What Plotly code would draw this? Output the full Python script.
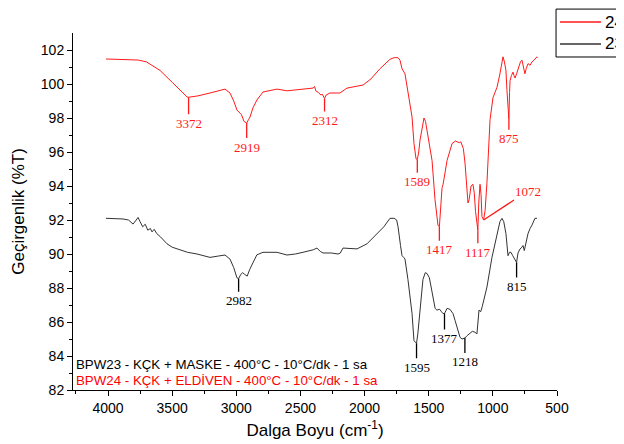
import numpy as np
import plotly.graph_objects as go

# ---- data ----
red_wn = [4016, 3900, 3766, 3700, 3595, 3500, 3430, 3384, 3372, 3300, 3205, 3140, 3088, 3049, 3020, 2995,
          2960, 2940, 2925, 2919, 2905, 2893, 2870, 2839, 2792, 2740, 2683, 2605, 2500, 2402, 2390, 2380,
          2360, 2340, 2330, 2318, 2312, 2300, 2270, 2192, 2137, 2012, 1950, 1880, 1802, 1770, 1740, 1724,
          1708, 1685, 1662, 1645, 1630, 1615, 1599, 1589, 1578, 1568, 1550, 1537, 1525, 1513, 1495, 1474,
          1451, 1428, 1417, 1405, 1396, 1388, 1380, 1357, 1318, 1290, 1279, 1260, 1250, 1240, 1230, 1217,
          1205, 1194, 1185, 1170, 1155, 1145, 1135, 1117, 1110, 1100, 1092, 1085, 1072, 1060, 1046, 1035,
          1022, 999, 968, 945, 929, 921, 910, 898, 890, 882, 875, 870, 866, 855, 843, 835, 827, 815, 800,
          785, 773, 760, 750, 740, 726, 710, 695, 680, 665, 656, 650]
red_t = [101.47, 101.43, 101.41, 101.3, 100.8, 100.1, 99.6, 99.24, 99.22, 99.3, 99.47, 99.6, 99.7, 99.47, 99.0, 98.47,
         98.2, 97.8, 97.75, 97.7, 97.9, 98.06, 98.6, 99.06, 99.53, 99.62, 99.7, 99.6, 99.68, 99.76, 99.85, 99.6,
         99.5, 99.35, 99.4, 99.2, 99.15, 99.35, 99.47, 99.47, 99.76, 99.94, 100.3, 100.9, 101.45, 101.55, 101.55, 101.4,
         100.9, 100.6, 99.6, 98.9, 98.06, 96.5, 95.6, 95.55, 96.0, 96.7, 97.6, 98.0, 97.8, 97.3, 96.5, 95.5,
         93.2, 91.7, 91.6, 92.8, 93.9, 94.1, 94.5, 95.5, 96.5, 96.65, 96.6, 96.55, 96.6, 96.4, 96.2, 95.35,
         94.0, 93.0, 93.2, 94.0, 94.1, 93.6, 92.5, 91.4, 93.0, 94.1, 93.5, 92.2, 92.0, 92.6, 94.2, 96.0,
         97.9, 99.2, 99.8, 100.6, 101.4, 101.6, 101.3, 100.8, 99.6, 98.6, 97.9, 99.5, 100.2, 100.5, 100.7, 100.5, 100.35, 100.6, 101.0,
         101.3, 101.4, 101.0, 100.6, 100.9, 101.2, 101.1, 101.3, 101.4, 101.5, 101.6, 101.55]

blk_wn = [4016, 3950, 3883, 3840, 3805, 3780, 3766, 3750, 3730, 3710, 3690, 3670, 3657, 3640, 3620, 3590,
          3540, 3500, 3439, 3380, 3306, 3250, 3205, 3140, 3088, 3049, 3020, 2995, 2982, 2965, 2950, 2935,
          2915, 2895, 2870, 2840, 2792, 2700, 2683, 2605, 2540, 2480, 2400, 2371, 2345, 2324, 2260, 2207,
          2190, 2168, 2100, 2059, 1981, 1903, 1850, 1802, 1770, 1750, 1739, 1720, 1708, 1695, 1685, 1662,
          1645, 1630, 1615, 1595, 1585, 1568, 1545, 1527, 1513, 1495, 1480, 1467, 1450, 1436, 1415, 1400,
          1389, 1377, 1365, 1357, 1335, 1311, 1295, 1279, 1256, 1240, 1218, 1200, 1178, 1160, 1140, 1124,
          1108, 1095, 1083, 1065, 1046, 1007, 968, 945, 929, 915, 898, 882, 870, 859, 845, 830, 820, 815,
          804, 788, 773, 765, 755, 740, 726, 710, 695, 672, 656]
blk_t = [92.1, 92.08, 92.06, 92.0, 91.76, 92.0, 92.15, 91.9, 91.6, 91.75, 91.4, 91.5, 91.3, 91.45, 91.2, 91.0,
         90.6, 90.4, 90.24, 90.1, 90.0, 89.9, 89.8, 89.88, 89.94, 89.7, 89.2, 88.6, 88.55, 88.8, 88.9, 88.8,
         88.7, 89.1, 89.5, 89.95, 90.1, 90.1, 90.1, 89.94, 90.0, 90.1, 90.25, 90.35, 90.15, 90.06, 90.06, 90.0,
         90.05, 90.35, 90.3, 90.3, 90.6, 91.2, 91.6, 92.1, 92.1, 92.0, 91.6, 90.5, 89.9, 89.8, 89.7, 88.5,
         87.5, 86.5, 84.9, 84.75, 85.3, 86.5, 88.5, 88.9, 88.85, 88.6, 88.0, 87.3, 86.8, 86.7, 86.75, 86.6,
         86.5, 86.5, 86.7, 86.8, 86.75, 86.5, 86.1, 85.7, 85.1, 85.0, 85.06, 85.2, 85.35, 85.45, 85.4, 85.3,
         86.7, 86.6, 86.9, 87.5, 88.06, 89.8, 91.2, 91.9, 92.1, 91.9, 91.2, 89.9, 90.1, 90.1, 89.9, 89.7, 89.5, 89.5,
         90.06, 90.3, 90.4, 90.5, 90.2, 90.8, 91.2, 91.5, 91.7, 92.1, 92.1]

red_peaks = [3372, 2919, 2312, 1589, 1417, 1117, 1072, 875]
blk_peaks = [2982, 1595, 1377, 1218, 815]

series_names = ["24", "23"]
note_23 = "BPW23 - KÇK + MASKE - 400°C - 10°C/dk - 1 sa"
note_24 = "BPW24 - KÇK + ELDİVEN - 400°C - 10°C/dk - 1 sa"

RED = "#ff1a1a"
BLK = "#333333"

fig = go.Figure()
fig.add_trace(go.Scatter(x=red_wn, y=red_t, mode="lines", name=series_names[0],
                         line=dict(color=RED, width=1), showlegend=False))
fig.add_trace(go.Scatter(x=blk_wn, y=blk_t, mode="lines", name=series_names[1],
                         line=dict(color=BLK, width=1), showlegend=False))

def interp(wn, xs, ys):
    xs_a = np.array(xs[::-1], float)
    ys_a = np.array(ys[::-1], float)
    return float(np.interp(wn, xs_a, ys_a))

red_off = {3372: (0, 26), 2919: (0, 24), 2312: (0, 22), 1589: (0, 22), 1417: (0, 23),
           1117: (0, 22), 1072: (44, -29), 875: (0, 19)}
blk_off = {2982: (0, 22), 1595: (0, 24), 1377: (0, 25), 1218: (0, 24), 815: (0, 24)}

for p in red_peaks:
    ax, ay = red_off[p]
    fig.add_annotation(x=p, y=interp(p, red_wn, red_t), text=str(p), showarrow=True,
                       arrowhead=0, arrowwidth=1.3, arrowcolor=RED, ax=ax, ay=ay,
                       font=dict(family="Liberation Serif", size=13, color=RED))
for p in blk_peaks:
    ax, ay = blk_off[p]
    fig.add_annotation(x=p, y=interp(p, blk_wn, blk_t), text=str(p), showarrow=True,
                       arrowhead=0, arrowwidth=1.3, arrowcolor="#000000", ax=ax, ay=ay,
                       font=dict(family="Liberation Serif", size=13, color="#000000"))

fig.add_annotation(xref="paper", yref="paper", x=0.002, y=0.0728, xanchor="left", yanchor="middle",
                   text=note_23, showarrow=False,
                   font=dict(family="Liberation Sans", size=13.3, color="#000000"))
fig.add_annotation(xref="paper", yref="paper", x=0.002, y=0.028, xanchor="left", yanchor="middle",
                   text=note_24, showarrow=False,
                   font=dict(family="Liberation Sans", size=13.3, color="#ff0000"))

# ---- legend box (drawn in paper coordinates, partly outside the figure like the reference) ----
fig.add_shape(type="rect", xref="paper", yref="paper", x0=0.998, x1=1.18, y0=0.9328, y1=1.067,
              line=dict(color="#000000", width=1), fillcolor="white", layer="above")
legend_rows = [(series_names[0], RED, 1.0308), (series_names[1], BLK, 0.9692)]
for name, col, yy in legend_rows:
    fig.add_shape(type="line", xref="paper", yref="paper", x0=1.0062, x1=1.0909, y0=yy, y1=yy,
                  line=dict(color=col, width=1.5), layer="above")
    fig.add_annotation(xref="paper", yref="paper", x=1.095, y=yy, xanchor="left", yanchor="middle",
                       text=name, showarrow=False,
                       font=dict(family="Liberation Sans", size=17, color="#000000"))

# page body has an 8px margin: the figure is 8px smaller so it ends at the window edge
fig.update_layout(
    width=616, height=436,
    margin=dict(l=65, r=67, t=25, b=54, autoexpand=False),
    paper_bgcolor="white", plot_bgcolor="white",
    font=dict(family="Liberation Sans", color="#000000"),
    showlegend=False,
    xaxis=dict(range=[4273, 500], tickvals=[4000, 3500, 3000, 2500, 2000, 1500, 1000, 500],
               showline=True, linecolor="#000000", linewidth=1, ticks="outside", ticklen=5,
               tickcolor="#000000", showgrid=False, zeroline=False,
               tickfont=dict(size=14),
               minor=dict(tickvals=[4250, 3750, 3250, 2750, 2250, 1750, 1250, 750], ticks="outside",
                          ticklen=3, tickcolor="#000000"),
               title=dict(text="Dalga Boyu (cm<sup>-1</sup>)", font=dict(size=17), standoff=9)),
    yaxis=dict(range=[82, 103], tickvals=list(range(82, 103, 2)),
               showline=True, linecolor="#000000", linewidth=1, ticks="outside", ticklen=5,
               tickcolor="#000000", showgrid=False, zeroline=False,
               tickfont=dict(size=14),
               minor=dict(tickvals=list(range(83, 103, 2)), ticks="outside", ticklen=3,
                          tickcolor="#000000"),
               title=dict(text="Geçirgenlik (%T)", font=dict(size=17), standoff=11)),
)

fig.write_html("out.html")
